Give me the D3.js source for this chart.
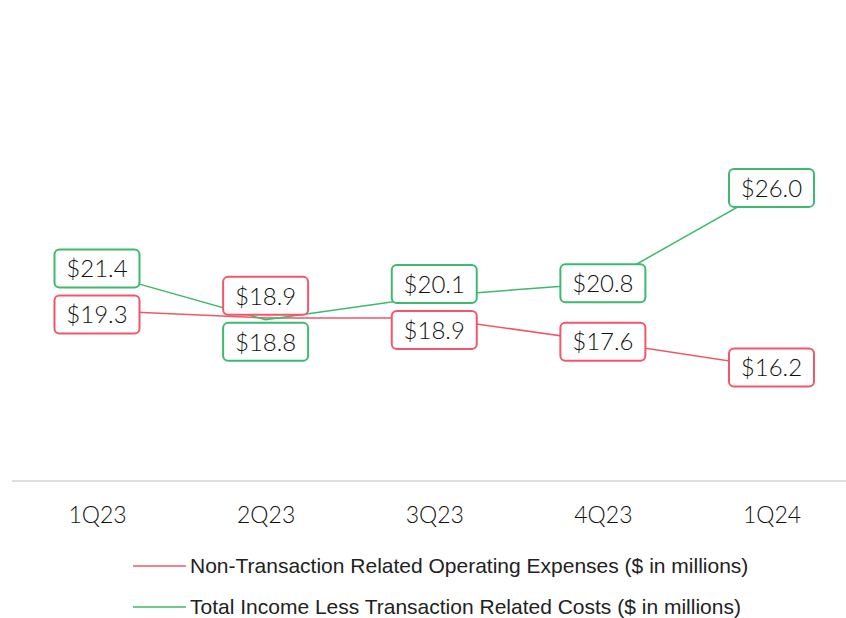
<!DOCTYPE html>
<html>
<head>
<meta charset="utf-8">
<script src="https://cdn.jsdelivr.net/npm/d3@7"></script>
<style>
  html, body { margin: 0; padding: 0; background: #fff; }
  svg { display: block; }
</style>
</head>
<body>
<svg id="chart" width="846" height="618"></svg>
<script>
const categories = ["1Q23", "2Q23", "3Q23", "4Q23", "1Q24"];
const expenses = [19.3, 18.9, 18.9, 17.6, 16.2];
const income = [21.4, 18.8, 20.1, 20.8, 26.0];
const seriesNames = [
  "Non-Transaction Related Operating Expenses ($ in millions)",
  "Total Income Less Transaction Related Costs ($ in millions)"
];

const RED = "#f2566a", GREEN = "#3cba6e";
const series = [
  { name: seriesNames[0], values: expenses, color: RED },
  { name: seriesNames[1], values: income, color: GREEN }
];

const svg = d3.select("#chart");
const x = d3.scalePoint().domain(categories).range([97, 771.5]);
const y = d3.scaleLinear().domain([10, 35]).range([481, 23]);

// baseline axis
svg.append("line")
  .attr("x1", 12).attr("x2", 846)
  .attr("y1", y(10)).attr("y2", y(10))
  .attr("stroke", "#dedede").attr("stroke-width", 2);

const xAxis = d3.axisBottom(x).tickSize(0).tickPadding(0);
const gx = svg.append("g").attr("transform", `translate(0,${y(10)})`).call(xAxis);
gx.select(".domain").remove();
gx.selectAll("text")
  .attr("y", 34)
  .attr("dy", "0.35em")
  .attr("fill", "#111")
  .style("font-family", "Lato, 'Noto Sans', sans-serif")
  .style("font-weight", "300")
  .style("font-size", "23px");

// lines
const line = d3.line().x((d, i) => x(categories[i])).y(d => y(d));
series.forEach(s => {
  svg.append("path")
    .datum(s.values)
    .attr("fill", "none")
    .attr("stroke", s.color)
    .attr("stroke-width", 1.5)
    .attr("d", line);
});

// label layout (simple collision avoidance per category)
const boxW = 85, boxH = 38, minSep = 46;
const labels = [];
categories.forEach((c, i) => {
  const a = { s: series[0], v: expenses[i], y: y(expenses[i]), cx: x(c) };
  const b = { s: series[1], v: income[i], y: y(income[i]), cx: x(c) };
  const top = a.y <= b.y ? a : b, bot = top === a ? b : a;
  if (bot.y - top.y < minSep) {
    const mid = (top.y + bot.y) / 2;
    top.y = mid - minSep / 2;
    bot.y = mid + minSep / 2;
  }
  labels.push(a, b);
});

const lg = svg.append("g").selectAll("g").data(labels).join("g")
  .attr("transform", d => `translate(${d.cx},${d.y})`);
lg.append("rect")
  .attr("x", -boxW / 2).attr("y", -boxH / 2)
  .attr("width", boxW).attr("height", boxH)
  .attr("rx", 5).attr("ry", 5)
  .attr("fill", "#fff")
  .attr("stroke", d => d.s.color)
  .attr("stroke-width", 2);
lg.append("text")
  .attr("text-anchor", "middle")
  .attr("dy", "0.36em")
  .attr("fill", "#111")
  .style("font-family", "Lato, 'Noto Sans', sans-serif")
  .style("font-weight", "300")
  .style("font-size", "24px")
  .text(d => "$" + d.v.toFixed(1));

// legend
const leg = svg.append("g").selectAll("g").data(series).join("g")
  .attr("transform", (d, i) => `translate(133,${566 + i * 41})`);
leg.append("line")
  .attr("x1", 0).attr("x2", 53)
  .attr("stroke", d => d.color).attr("stroke-width", 1.5);
leg.append("text")
  .attr("x", 57).attr("dy", "0.35em")
  .attr("fill", "#222")
  .style("font-family", "'Liberation Sans', Arial, sans-serif")
  .style("font-size", "21px")
  .text(d => d.name);
</script>
</body>
</html>
